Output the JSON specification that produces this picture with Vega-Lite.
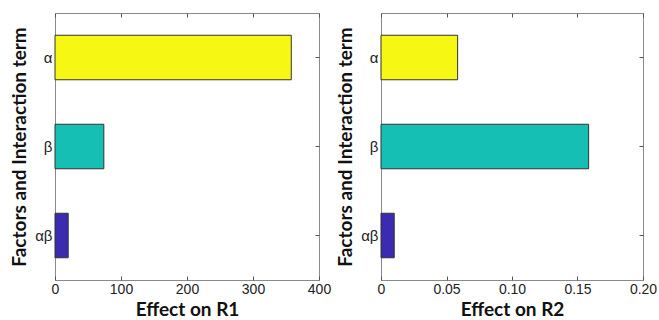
{
  "$schema": "https://vega.github.io/schema/vega-lite/v6.json",
  "padding": {"left": 10, "top": 12, "right": 0, "bottom": 0},
  "background": "white",
  "config": {
    "view": {"stroke": "#8a8a8a", "strokeWidth": 1},
    "concat": {"spacing": 4},
    "axis": {
      "domain": false,
      "grid": false,
      "tickColor": "#555",
      "tickSize": -4,
      "labelFlush": false,
      "labelFont": "Liberation Sans",
      "labelFontSize": 14,
      "labelColor": "#222",
      "titleFont": "Lato",
      "titleFontSize": 19,
      "titleFontWeight": "bold",
      "titleColor": "#111"
    }
  },
  "datasets": {
    "d": [
      {"term": "α", "R1": 358, "R2": 0.0585},
      {"term": "β", "R1": 74, "R2": 0.1585},
      {"term": "αβ", "R1": 20, "R2": 0.0101}
    ]
  },
  "hconcat": [
    {
      "width": 264,
      "height": 267,
      "data": {"name": "d"},
      "layer": [
        {
          "mark": {"type": "bar", "stroke": "#333", "strokeWidth": 1},
          "encoding": {
            "y": {"field": "term", "type": "nominal", "sort": ["α", "β", "αβ"],
              "scale": {"paddingInner": 0.5, "paddingOuter": 0.25},
              "axis": {"title": "Factors and Interaction term", "labelPadding": 7, "labelFontSize": 15, "titlePadding": 5}},
            "x": {"field": "R1", "type": "quantitative", "scale": {"domain": [0, 400], "nice": false},
              "axis": {"values": [0, 100, 200, 300, 400], "title": "Effect on R1", "labelPadding": 6, "titlePadding": 4}},
            "color": {"field": "term", "type": "nominal",
              "scale": {"domain": ["α", "β", "αβ"], "range": ["#f7f714", "#16bfb4", "#3a2bb0"]}, "legend": null}
          }
        },
        {
          "mark": {"type": "bar", "opacity": 0},
          "encoding": {
            "y": {"field": "term", "type": "nominal", "sort": ["α", "β", "αβ"],
              "axis": {"orient": "right", "labels": false, "title": null}},
            "x": {"field": "R1", "type": "quantitative",
              "axis": {"orient": "top", "values": [0, 100, 200, 300, 400], "labels": false, "title": null}}
          }
        }
      ],
      "resolve": {"axis": {"x": "independent", "y": "independent"}}
    },
    {
      "width": 262,
      "height": 267,
      "data": {"name": "d"},
      "layer": [
        {
          "mark": {"type": "bar", "stroke": "#333", "strokeWidth": 1},
          "encoding": {
            "y": {"field": "term", "type": "nominal", "sort": ["α", "β", "αβ"],
              "scale": {"paddingInner": 0.5, "paddingOuter": 0.25},
              "axis": {"title": "Factors and Interaction term", "labelPadding": 7, "labelFontSize": 15, "titlePadding": 5}},
            "x": {"field": "R2", "type": "quantitative", "scale": {"domain": [0, 0.2], "nice": false},
              "axis": {"values": [0, 0.05, 0.1, 0.15, 0.2], "labelExpr": "datum.value == 0 ? '0' : format(datum.value, '.2f')", "title": "Effect on R2", "labelPadding": 6, "titlePadding": 4}},
            "color": {"field": "term", "type": "nominal",
              "scale": {"domain": ["α", "β", "αβ"], "range": ["#f7f714", "#16bfb4", "#3a2bb0"]}, "legend": null}
          }
        },
        {
          "mark": {"type": "bar", "opacity": 0},
          "encoding": {
            "y": {"field": "term", "type": "nominal", "sort": ["α", "β", "αβ"],
              "axis": {"orient": "right", "labels": false, "title": null}},
            "x": {"field": "R2", "type": "quantitative",
              "axis": {"orient": "top", "values": [0, 0.05, 0.1, 0.15, 0.2], "labels": false, "title": null}}
          }
        }
      ],
      "resolve": {"axis": {"x": "independent", "y": "independent"}}
    }
  ]
}
